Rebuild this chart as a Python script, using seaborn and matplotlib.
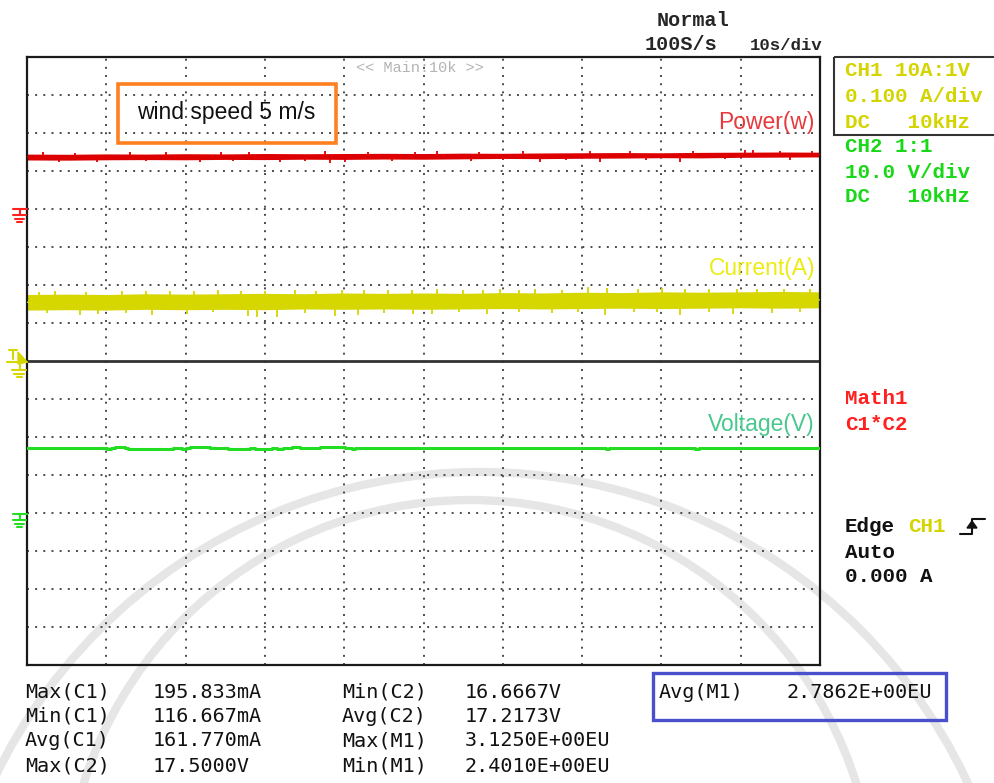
import numpy as np
import pandas as pd
import matplotlib
matplotlib.use("Agg")
import matplotlib.pyplot as plt
from matplotlib.patches import Rectangle, Polygon, Arc
import seaborn as sns

# time base: 10 s/div, 10 divisions on screen
band_t = list(range(0, 101, 5))

# Math1 = C1*C2 (W), envelope of the noisy trace
power_hi = [2.89, 2.88, 2.90, 2.89, 2.91, 2.90, 2.92, 2.91, 2.92, 2.93, 2.92,
            2.94, 2.93, 2.95, 2.96, 2.97, 2.96, 2.98, 2.99, 3.00, 2.99]
power_lo = [2.58, 2.57, 2.59, 2.60, 2.59, 2.61, 2.60, 2.62, 2.61, 2.63, 2.62,
            2.64, 2.66, 2.65, 2.67, 2.68, 2.70, 2.69, 2.72, 2.73, 2.74]
power_up_t = [2.0, 6.0, 13.0, 17.5, 24.5, 28.0, 37.6, 43.0, 48.9, 51.7, 57.0, 62.5,
              71.0, 76.0, 84.0, 90.5, 91.5, 95.0, 99.0]
power_up_v = [2.98, 2.97, 3.00, 2.98, 2.98, 3.00, 3.04, 3.00, 3.00, 3.03, 3.02, 3.03,
              3.06, 3.05, 3.06, 3.11, 3.08, 3.07, 3.06]
power_dn_t = [4.0, 8.8, 15.0, 21.8, 26.0, 31.9, 35.0, 38.2, 40.1, 46.0, 56.0, 60.0,
              64.7, 68.0, 72.3, 78.0, 82.3, 88.0, 96.2]
power_dn_v = [2.50, 2.45, 2.51, 2.50, 2.52, 2.47, 2.52, 2.40, 2.46, 2.53, 2.52, 2.56,
              2.50, 2.58, 2.49, 2.60, 2.50, 2.62, 2.56]

# CH1 current (A)
current_hi = [0.175, 0.176, 0.175, 0.177, 0.176, 0.177, 0.178, 0.177, 0.179, 0.178, 0.179,
              0.178, 0.180, 0.179, 0.181, 0.180, 0.182, 0.181, 0.182, 0.183, 0.182]
current_lo = [0.134, 0.135, 0.134, 0.136, 0.135, 0.136, 0.135, 0.137, 0.136, 0.137, 0.136,
              0.137, 0.138, 0.137, 0.138, 0.139, 0.138, 0.139, 0.140, 0.139, 0.140]
current_up_t = [1.5, 3.5, 7.5, 12.0, 15.0, 18.0, 21.0, 24.1, 27.0, 30.0, 33.8, 36.5,
                39.7, 42.5, 45.5, 48.5, 51.7, 55.0, 57.5, 59.6, 62.0, 64.0, 67.5,
                70.7, 73.1, 77.0, 80.1, 83.0, 86.0, 89.5, 92.0, 95.5, 98.7]
current_up_v = [0.182, 0.184, 0.182, 0.185, 0.183, 0.184, 0.183, 0.187, 0.184, 0.185, 0.188,
                0.185, 0.188, 0.186, 0.187, 0.186, 0.190, 0.188, 0.187, 0.190, 0.188,
                0.189, 0.188, 0.196, 0.192, 0.190, 0.192, 0.189, 0.190, 0.189, 0.190,
                0.189, 0.190]
current_dn_t = [2.5, 6.7, 9.0, 12.5, 15.8, 20.2, 23.5, 27.9, 29.0, 31.5, 35.0, 38.8,
                41.7, 45.0, 48.7, 51.1, 54.5, 58.0, 62.0, 66.2, 69.5, 72.9, 76.5,
                79.5, 82.3, 86.0, 89.0, 93.9, 97.5]
current_dn_v = [0.127, 0.121, 0.124, 0.127, 0.121, 0.124, 0.128, 0.118, 0.117, 0.116, 0.126,
                0.118, 0.121, 0.127, 0.124, 0.124, 0.128, 0.125, 0.128, 0.126, 0.129,
                0.122, 0.128, 0.129, 0.120, 0.129, 0.124, 0.126, 0.130]

# CH2 voltage (V), quantised steps
voltage_t = [0, 10.1, 10.6, 11.1, 12.4, 12.7, 18.4, 19.5, 20.0, 20.6, 23.1, 25.3, 28.1,
             28.8, 30.9, 31.5, 32.3, 33.4, 34.4, 37.0, 40.1, 41.0, 41.4, 73.0, 73.4,
             84.3, 84.7, 100]
voltage_v = [17.222, 16.944, 17.222, 17.5, 17.222, 16.944, 17.222, 16.944, 17.222, 17.5,
             17.222, 16.944, 17.222, 16.944, 17.222, 16.944, 17.222, 17.5, 17.222, 17.5,
             17.222, 16.944, 17.222, 16.944, 17.222, 16.944, 17.222, 17.222]

# channel settings: units per division and ground position (divisions)
power_scale, power_gnd = 2.0, 4
current_scale, current_gnd = 0.1, 0
voltage_scale, voltage_gnd = 10.0, -4

stats_left = [("Max(C1)", "195.833mA"), ("Min(C1)", "116.667mA"),
              ("Avg(C1)", "161.770mA"), ("Max(C2)", "17.5000V")]
stats_mid = [("Min(C2)", "16.6667V"), ("Avg(C2)", "17.2173V"),
             ("Max(M1)", "3.1250E+00EU"), ("Min(M1)", "2.4010E+00EU")]
stats_avg = ("Avg(M1)", "2.7862E+00EU")

RED = "#dd0000"
YEL = "#d6d600"
GRN = "#22dd22"
TXT_YEL = "#d4d400"
TXT_GRN = "#18d818"


def to_div(v, scale, gnd):
    return gnd + np.asarray(v, dtype=float) / scale


sns.set_style("white")
plt.rcParams["font.family"] = ["DejaVu Sans"]

W, H = 994, 783
fig = plt.figure(figsize=(W / 100, H / 100), dpi=100)

# faint watermark arcs behind everything (pixel coordinates)
bg = fig.add_axes([0, 0, 1, 1], zorder=-1)
bg.set_xlim(0, W)
bg.set_ylim(H, 0)
bg.axis("off")
bg.add_patch(Arc((480, 1010), 1076, 1076, theta1=180, theta2=360, color="#e6e6e6", lw=6))
bg.add_patch(Arc((470, 905), 810, 810, theta1=180, theta2=360, color="#e6e6e6", lw=6))

x0, x1, y0, y1 = 27, 820, 57, 665
ax = fig.add_axes([x0 / W, 1 - y1 / H, (x1 - x0) / W, (y1 - y0) / H])
ax.patch.set_alpha(0)
ax.set_xlim(0, 100)
ax.set_ylim(-8, 8)
ax.set_xticks([])
ax.set_yticks([])
for s in ax.spines.values():
    s.set_color("#1a1a1a")
    s.set_linewidth(1.6)

# dotted graticule
for i in range(1, 10):
    ax.axvline(i * 10, color="#4a4a4a", lw=1.4, ls=(0, (1, 3.2)), zorder=1)
for k in range(-7, 8):
    if k == 0:
        continue
    ax.axhline(k, color="#4a4a4a", lw=1.4, ls=(0, (1, 3.2)), zorder=1)
ax.axhline(0, color="#333333", lw=2.0, zorder=2)


def band(hi, lo, scale, gnd, color):
    df = pd.DataFrame({
        "t": band_t + band_t,
        "d": np.concatenate([to_div(hi, scale, gnd), to_div(lo, scale, gnd)]),
    })
    sns.lineplot(data=df, x="t", y="d", estimator="mean", errorbar=("pi", 100),
                 color=color, lw=1.0, err_kws={"alpha": 1, "linewidth": 0},
                 ax=ax, zorder=3)


band(power_hi, power_lo, power_scale, power_gnd, RED)
ax.vlines(power_up_t, to_div([2.78] * len(power_up_t), power_scale, power_gnd),
          to_div(power_up_v, power_scale, power_gnd), color=RED, lw=1.3, zorder=3)
ax.vlines(power_dn_t, to_div([2.78] * len(power_dn_t), power_scale, power_gnd),
          to_div(power_dn_v, power_scale, power_gnd), color=RED, lw=1.3, zorder=3)

band(current_hi, current_lo, current_scale, current_gnd, YEL)
ax.vlines(current_up_t, to_div([0.16] * len(current_up_t), current_scale, current_gnd),
          to_div(current_up_v, current_scale, current_gnd), color=YEL, lw=1.3, zorder=3)
ax.vlines(current_dn_t, to_div([0.16] * len(current_dn_t), current_scale, current_gnd),
          to_div(current_dn_v, current_scale, current_gnd), color=YEL, lw=1.3, zorder=3)

sns.lineplot(x=voltage_t, y=to_div(voltage_v, voltage_scale, voltage_gnd),
             drawstyle="steps-post", color=GRN, lw=2.2, ax=ax, zorder=3)
ax.set_xlim(0, 100)
ax.set_ylim(-8, 8)
ax.set_xlabel("")
ax.set_ylabel("")

# overlay in pixel coordinates for the scope annotations
ov = fig.add_axes([0, 0, 1, 1])
ov.set_xlim(0, W)
ov.set_ylim(H, 0)
ov.axis("off")

mono = "Liberation Mono"
ov.text(693, 20, "Normal", family=mono, weight="bold", fontsize=14.5, ha="center", va="center")
ov.text(681, 45, "100S/s", family=mono, weight="bold", fontsize=14.5, ha="center", va="center")
ov.text(822, 45, "10s/div", family=mono, weight="bold", fontsize=12.5, ha="right", va="center")
ov.text(356, 68, "<< Main:10k >>", family=mono, fontsize=11, color="#b4b4b4", ha="left", va="center")

# channel info panel
ov.add_patch(Rectangle((834, 57), 200, 78, fill=False, ec="#333333", lw=1.5))
panel = [("CH1 10A:1V", 70, TXT_YEL), ("0.100 A/div", 96, TXT_YEL), ("DC   10kHz", 122, TXT_YEL),
         ("CH2 1:1", 147, TXT_GRN), ("10.0 V/div", 172, TXT_GRN), ("DC   10kHz", 197, TXT_GRN),
         ("Math1", 399, "#ff2020"), ("C1*C2", 425, "#ff2020"),
         ("Edge", 527, "#111111"), ("Auto", 552, "#111111"), ("0.000 A", 577, "#111111")]
for s, y, c in panel:
    ov.text(845, y, s, family=mono, weight="bold", fontsize=15, color=c, ha="left", va="center")
ov.text(908, 527, "CH1", family=mono, weight="bold", fontsize=15, color=TXT_YEL, ha="left", va="center")
# rising edge symbol
ov.plot([960, 972, 972, 985], [534, 534, 519, 519], color="#111111", lw=1.5)
ov.add_patch(Polygon([(967, 528), (977, 528), (972, 521)], closed=True, color="#111111"))

# trace labels
sans = "Liberation Sans"
ov.text(815, 123, "Power(w)", family=sans, fontsize=16.5, color="#e8383c", ha="right", va="center")
ov.text(815, 268, "Current(A)", family=sans, fontsize=16.5, color="#ecec10", ha="right", va="center")
ov.text(815, 424, "Voltage(V)", family=sans, fontsize=16.5, color="#48c88c", ha="right", va="center")

ov.add_patch(Rectangle((118, 84), 218, 59, fill=False, ec="#ff8020", lw=2.6))
ov.text(226, 113, "wind speed 5 m/s", family=sans, fontsize=16.5, color="#111111", ha="center", va="center")


def ground(y, color):
    ov.plot([13, 27], [y, y], color=color, lw=1.5)
    ov.plot([19.5, 19.5], [y, y + 6], color=color, lw=1.5)
    ov.plot([13, 26], [y + 6, y + 6], color=color, lw=1.5)
    ov.plot([15, 24], [y + 9.5, y + 9.5], color=color, lw=1.5)
    ov.plot([17, 22], [y + 12.5, y + 12.5], color=color, lw=1.5)


ground(209, "#ff2020")
ground(514, "#22dd22")
# CH1 ground / trigger level marker
ov.plot([7, 27], [362, 362], color=YEL, lw=1.5)
ov.plot([19.5, 19.5], [362, 370], color=YEL, lw=1.5)
ov.plot([12, 26], [370, 370], color=YEL, lw=1.5)
ov.plot([14, 24], [373.5, 373.5], color=YEL, lw=1.5)
ov.plot([16.5, 22], [376.5, 376.5], color=YEL, lw=1.5)
ov.plot([9, 17], [350, 350], color=YEL, lw=1.5)
ov.plot([13, 13], [350, 359], color=YEL, lw=1.5)
ov.add_patch(Polygon([(18, 352), (27, 362), (18, 364)], closed=True, color=YEL))

# measurement readouts
smono = "DejaVu Sans Mono"
rows = [692, 716, 741, 766]
for (lab, val), y in zip(stats_left, rows):
    ov.text(25, y, lab, family=smono, fontsize=14.5, color="#111111", ha="left", va="center")
    ov.text(153, y, val, family=smono, fontsize=14.5, color="#111111", ha="left", va="center")
for (lab, val), y in zip(stats_mid, rows):
    ov.text(342, y, lab, family=smono, fontsize=14.5, color="#111111", ha="left", va="center")
    ov.text(465, y, val, family=smono, fontsize=14.5, color="#111111", ha="left", va="center")
ov.text(659, rows[0], stats_avg[0], family=smono, fontsize=14.5, color="#111111", ha="left", va="center")
ov.text(786, rows[0], stats_avg[1], family=smono, fontsize=14.5, color="#111111", ha="left", va="center")
ov.add_patch(Rectangle((653, 673), 293, 47, fill=False, ec="#4a50cc", lw=2.4))

fig.savefig("out.png", dpi=100)
